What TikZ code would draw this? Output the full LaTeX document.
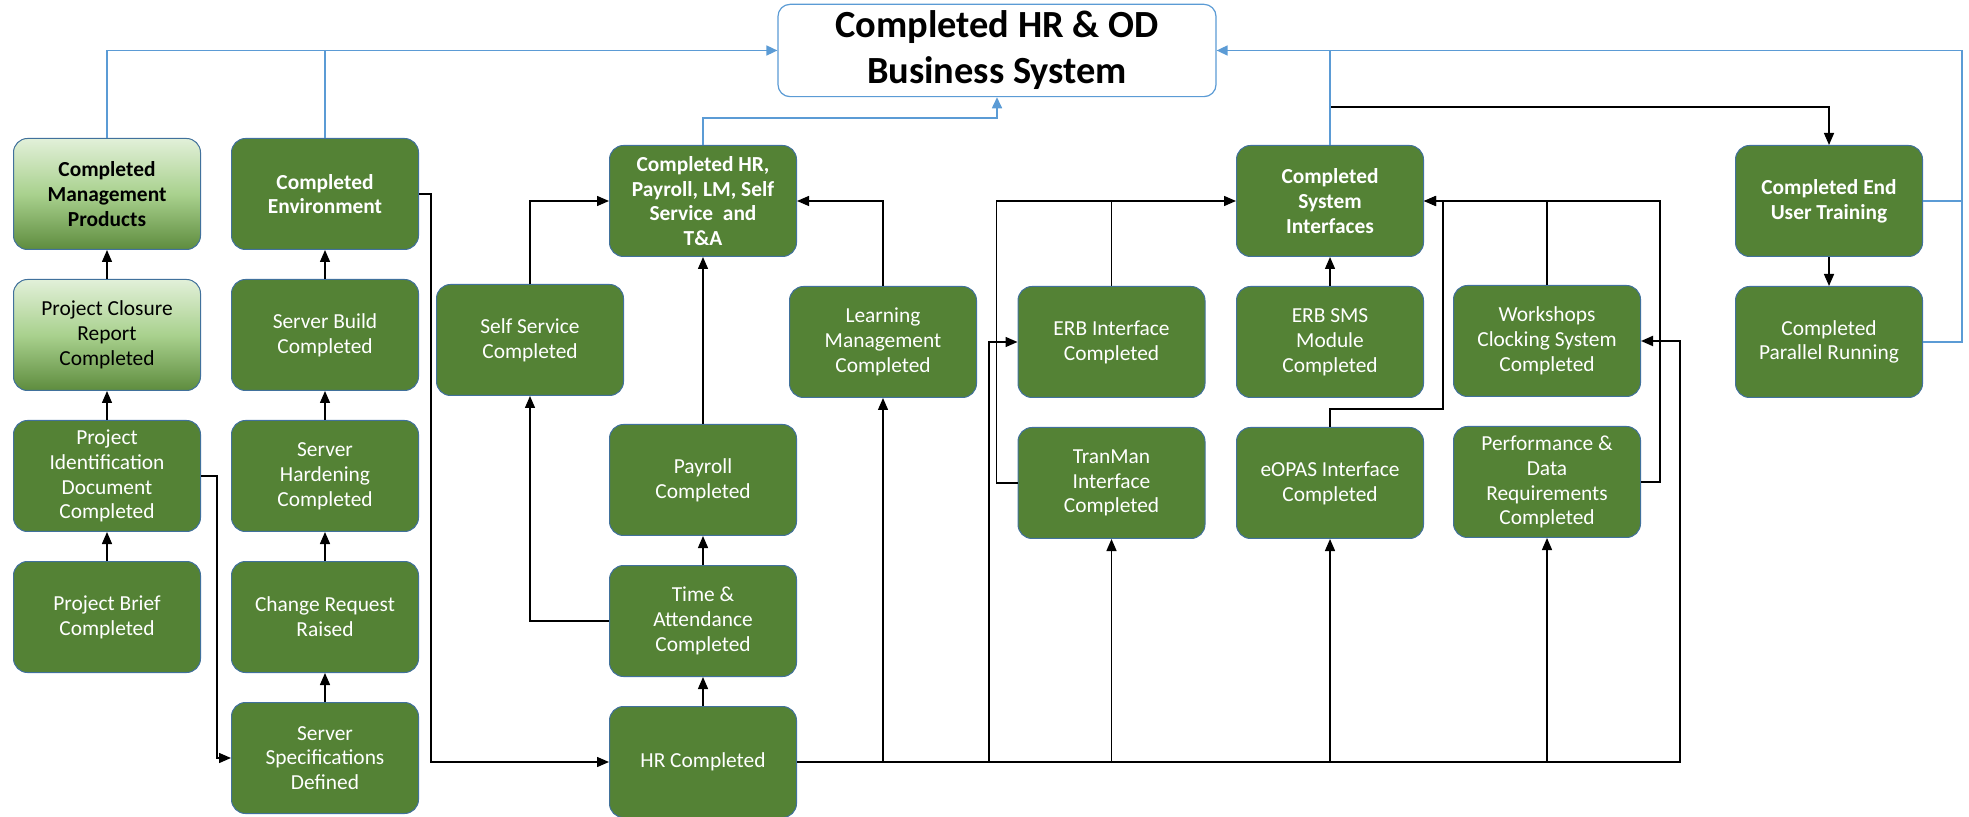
\documentclass[tikz,border=0pt]{standalone}
\usepackage{fontspec}
\setmainfont{Carlito}
\usetikzlibrary{arrows.meta,positioning}

\definecolor{boxgreen}{HTML}{548235}
\definecolor{boxedge}{HTML}{41719C}
\definecolor{linkblue}{HTML}{5B9BD5}
\definecolor{paletop}{HTML}{E2F0D9}
\definecolor{palemid}{HTML}{A9D18E}
\definecolor{palebot}{HTML}{5E8C3E}

\tikzset{
  task/.style={draw=boxedge, line width=0.5pt, fill=boxgreen, rounded corners=7pt,
    text=white, align=center, minimum width=93.5pt, minimum height=55.5pt,
    inner sep=2pt, font=\fontsize{10.7}{12.4}\selectfont},
  keytask/.style={task, font=\fontsize{10.7}{12.4}\selectfont\bfseries},
  closetask/.style={task, text=black, top color=paletop, bottom color=palebot, middle color=palemid},
  closekey/.style={closetask, font=\fontsize{10.7}{12.4}\selectfont\bfseries},
  goal/.style={draw=linkblue, line width=0.6pt, fill=white, rounded corners=6pt,
    minimum width=219pt, minimum height=42.5pt, align=center,
    font=\fontsize{19.2}{23}\selectfont\bfseries},
  link/.style={draw=black, line width=0.7pt},
  flow/.style={link, -{Triangle[length=6pt,width=5pt]}},
  bus/.style={flow, line width=1pt},
  feedline/.style={draw=linkblue, line width=0.8pt},
  feed/.style={feedline, -{Triangle[length=5.5pt,width=5pt]}},
}

\begin{document}
\begin{tikzpicture}[x=0.5pt, y=-0.5pt, node distance=14.5pt]
      \useasboundingbox (0,0) rectangle (1969,817);

      % nodes

      %goal
      \node[goal] (goal) at (997,50.5) {Completed HR \& OD\\Business System};

      %management products
      \node[closekey] (mgmt) at (107,194) {Completed\\Management\\Products};
      \node[closetask, below=of mgmt] (closure) {Project Closure\\Report\\Completed};
      \node[task, below=of closure] (pid) {Project\\Identification\\Document\\Completed};
      \node[task, below=of pid] (brief) {Project Brief\\Completed};

      %environment
      \node[keytask] (env) at (325,194) {Completed\\Environment};
      \node[task, below=of env] (build) {Server Build\\Completed};
      \node[task, below=of build] (harden) {Server\\Hardening\\Completed};
      \node[task, below=of harden] (change) {Change Request\\Raised};
      \node[task, below=of change] (spec) {Server\\Specifications\\Defined};

      %hr, payroll, lm
      \node[keytask] (hrall) at (703,201) {Completed HR,\\Payroll, LM, Self\\Service~ and\\T\&A};
      \node[task] (hr) at (703,762) {HR Completed};
      \node[task, above=of hr] (ta) {Time \&\\Attendance\\Completed};
      \node[task, above=of ta] (payroll) {Payroll\\Completed};
      \node[task] (ss) at (530,340) {Self Service\\Completed};
      \node[task] (lm) at (883,342) {Learning\\Management\\Completed};

      %interfaces
      \node[keytask] (csi) at (1330,201) {Completed\\System\\Interfaces};
      \node[task, below=of csi] (erbsms) {ERB SMS\\Module\\Completed};
      \node[task, below=of erbsms] (eopas) {eOPAS Interface\\Completed};
      \node[task] (erb) at (1111.5,342) {ERB Interface\\Completed};
      \node[task, below=of erb] (tm) {TranMan\\Interface\\Completed};
      \node[task] (ws) at (1547,341) {Workshops\\Clocking System\\Completed};
      \node[task, below=of ws] (perf) {Performance \&\\Data\\Requirements\\Completed};

      %training
      \node[keytask] (eut) at (1829,201) {Completed End\\User Training};
      \node[task, below=of eut] (pr) {Completed\\Parallel Running};

      % edges

      %management products
      \draw[flow] (brief) -- (pid);
      \draw[flow] (pid) -- (closure);
      \draw[flow] (closure) -- (mgmt);
      \draw[flow] (pid.east) -- ++(16,0) |- (spec.west);

      %environment
      \draw[flow] (spec) -- (change);
      \draw[flow] (change) -- (harden);
      \draw[flow] (harden) -- (build);
      \draw[flow] (build) -- (env);
      \draw[flow] (env.east) -- ++(12,0) |- (hr.west);

      %hr, payroll, lm
      \draw[flow] (hr) -- (ta);
      \draw[flow] (ta) -- (payroll);
      \draw[flow] (payroll) -- (hrall);
      \draw[flow] (ta.west) -| (ss.south);
      \draw[flow] (ss.north) |- (hrall.west);
      \draw[flow] (lm.north) |- (hrall.east);

      %bus out of hr
      \draw[bus] (hr.east) -| ([xshift=19.5pt]ws.east) -- (ws.east);
      \draw[flow] (hr.east -| lm.south) -- (lm.south);
      \draw[flow] ([xshift=96pt]hr.east) |- (erb.west);
      \draw[flow] (hr.east -| tm.south) -- (tm.south);
      \draw[flow] (hr.east -| eopas.south) -- (eopas.south);
      \draw[flow] (hr.east -| perf.south) -- (perf.south);

      %interfaces
      \draw[flow] (tm.west) -- ++(-21,0) |- (csi.west);
      \draw[link] (erb.north) -- (erb.north |- csi.west);
      \draw[flow] (erbsms) -- (csi);
      \draw[flow] (eopas.north) -- ++(0,-18) -| ([xshift=9.5pt]csi.east) -- (csi.east);
      \draw[flow] (perf.east) -- ++(19,0) |- (csi.east);
      \draw[link] (ws.north) -- (ws.north |- csi.east);

      %training
      \coordinate (split) at (1330,107);
      \draw[flow] (split) -| (eut.north);
      \draw[flow] (eut) -- (pr);

      %feeds into goal
      \draw[feed] (mgmt.north) |- (goal.west);
      \draw[feedline] (env.north) -- (env.north |- goal.west);
      \draw[feed] (hrall.north) -- ++(0,-27) -| (goal.south);
      \draw[feedline] (csi.north) -- (csi.north |- goal.east);
      \draw[feedline] (eut.east) -- ++(39,0);
      \draw[feed] (pr.east) -- ++(39,0) |- (goal.east);

\end{tikzpicture}
\end{document}
